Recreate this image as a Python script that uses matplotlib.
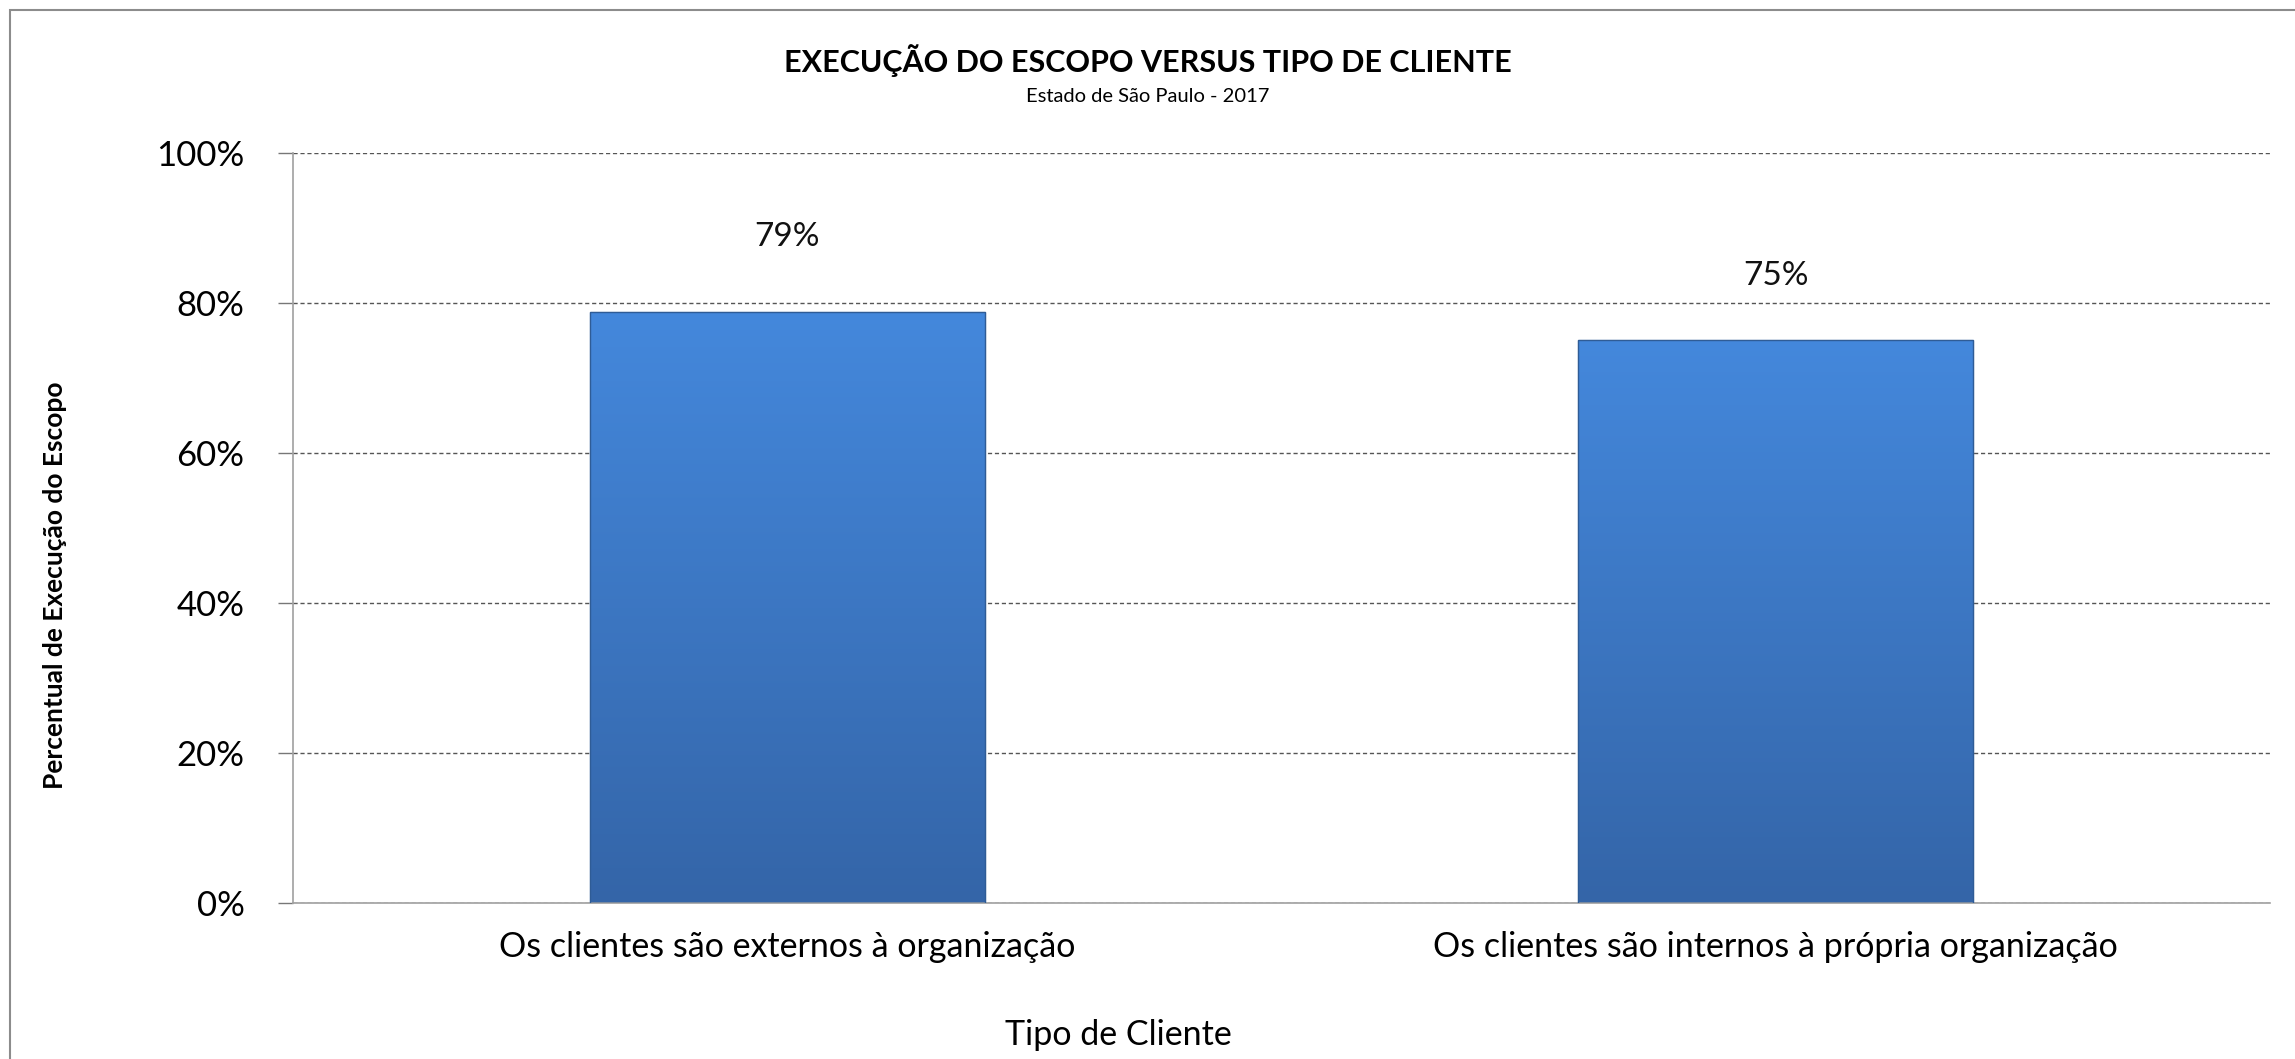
import numpy as np
import matplotlib
matplotlib.use('Agg')
import matplotlib.pyplot as plt
import matplotlib.patches as mpatches
from matplotlib.colors import LinearSegmentedColormap

categories = ['Os clientes são externos à organização',
              'Os clientes são internos à própria organização']
values = [0.788, 0.751]
labels = ['79%', '75%']
label_pad = [0.10, 0.085]
yticks = [0, 0.2, 0.4, 0.6, 0.8, 1.0]
ytick_labels = ['0%', '20%', '40%', '60%', '80%', '100%']

plt.rcParams['font.family'] = ['Lato', 'DejaVu Sans']

fig = plt.figure(figsize=(22.95, 10.59), dpi=100)
ax = fig.add_axes([0.1277, 0.1473, 0.8614, 0.7082])

# outer chart frame (right / bottom edges are cut off in the original)
fig.patches.append(mpatches.Rectangle((10 / 2295, -0.05), 1.0, 1 - 10 / 1059 + 0.05,
                                      transform=fig.transFigure, fill=False,
                                      edgecolor='#8c8c8c', linewidth=1.5))

x = np.arange(len(categories))
bars = ax.bar(x, values, width=0.40, color='#3d78c6', edgecolor='#2f5c96',
              linewidth=0.8, zorder=2)

# vertical gradient fill like the Excel bars
cmap = LinearSegmentedColormap.from_list('g', ['#3465a8', '#4488dc'])
grad = np.linspace(0, 1, 256).reshape(-1, 1)
for b in bars:
    x0, y0 = b.get_x(), b.get_y()
    w, h = b.get_width(), b.get_height()
    im = ax.imshow(grad, cmap=cmap, origin='lower', aspect='auto',
                   extent=[x0, x0 + w, y0, y0 + h], zorder=2.5)
    im.set_clip_path(b)
    ax.add_patch(mpatches.Rectangle((x0, y0), w, h, fill=False,
                                    edgecolor='#2f5c96', linewidth=1.0, zorder=3))

for xi, v, lab, p in zip(x, values, labels, label_pad):
    ax.text(xi, v + p, lab, ha='center', va='center', fontsize=24, color='#111111')

ax.set_xlim(-0.5, len(categories) - 0.5)
ax.set_ylim(0, 1.0)
ax.set_yticks(yticks)
ax.set_yticklabels(ytick_labels, fontsize=25)
ax.set_xticks(x)
ax.set_xticklabels(categories, fontsize=24.5)
ax.tick_params(axis='x', length=0, pad=20)
ax.tick_params(axis='y', length=11, width=1, color='#777777', pad=24)

ax.yaxis.grid(True, linestyle=(0, (3, 2)), color='#555555', linewidth=1.0, zorder=0)
ax.set_axisbelow(True)
for s in ['top', 'right']:
    ax.spines[s].set_visible(False)
ax.spines['left'].set_color('#a0a0a0')
ax.spines['bottom'].set_color('#a0a0a0')
ax.spines['left'].set_linewidth(1.2)
ax.spines['bottom'].set_linewidth(1.2)

fig.text(0.5, 1 - 61 / 1059, 'EXECUÇÃO DO ESCOPO VERSUS TIPO DE CLIENTE',
         ha='center', va='center', fontsize=22, fontweight='bold')
fig.text(0.5, 1 - 97 / 1059, 'Estado de São Paulo - 2017',
         ha='center', va='center', fontsize=14.5)
fig.text(55 / 2295, 1 - 585 / 1059, 'Percentual de Execução do Escopo',
         ha='center', va='center', rotation=90, fontsize=19, fontweight='bold')
fig.text(1118 / 2295, 1 - 1035 / 1059, 'Tipo de Cliente',
         ha='center', va='center', fontsize=24.5)

fig.savefig('out.png', dpi=100)
